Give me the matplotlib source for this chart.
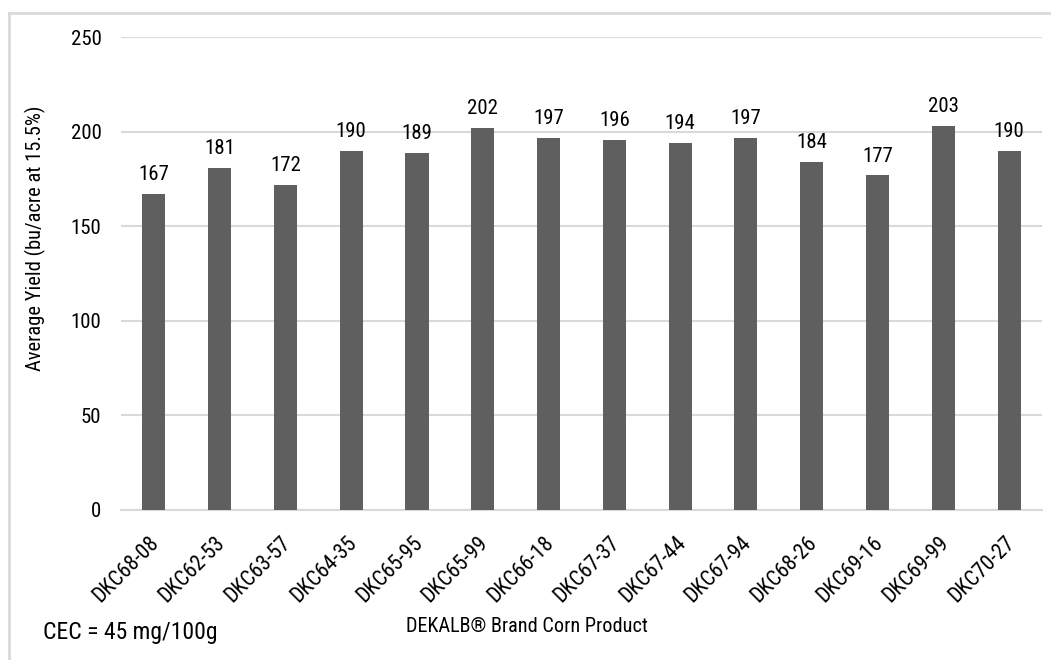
import matplotlib
matplotlib.use("Agg")
import matplotlib.pyplot as plt
from matplotlib.lines import Line2D
from matplotlib.transforms import ScaledTranslation

plt.rcParams['font.family'] = ['Roboto Condensed', 'DejaVu Sans']

products = ["DKC68-08", "DKC62-53", "DKC63-57", "DKC64-35", "DKC65-95", "DKC65-99",
            "DKC66-18", "DKC67-37", "DKC67-44", "DKC67-94", "DKC68-26", "DKC69-16",
            "DKC69-99", "DKC70-27"]
yields = [167, 181, 172, 190, 189, 202, 197, 196, 194, 197, 184, 177, 203, 190]
y_ticks = [0, 50, 100, 150, 200, 250]

FS = 15
fig = plt.figure(figsize=(10.51, 6.6), dpi=100)
ax = fig.add_axes([0.1151, 0.2273, 0.8763, 0.7159])

x = list(range(len(products)))
ax.bar(x, yields, width=0.35, color="#5f5f5f", zorder=3)
for xi, v in zip(x, yields):
    ax.annotate(str(v), (xi, v), xytext=(0, 10), textcoords="offset points",
                ha="center", va="baseline", fontsize=FS, color="#000000")

ax.set_xlim(-0.5, len(products) - 0.5)
ax.set_ylim(0, 250)
ax.set_yticks(y_ticks)
ax.set_yticklabels([str(t) for t in y_ticks], fontsize=FS)
ax.yaxis.grid(True, color="#d9d9d9", linewidth=1.5, zorder=0)
ax.tick_params(axis="y", length=0, pad=14)
ax.tick_params(axis="x", length=0, pad=4)
ax.set_xticks(x)
ax.set_xticklabels(products, rotation=45, ha="right", va="top",
                   rotation_mode="anchor", fontsize=15.5)
shift = ScaledTranslation(-5 / 100, -17 / 100, fig.dpi_scale_trans)
for lbl in ax.get_xticklabels():
    lbl.set_transform(lbl.get_transform() + shift)
for s in ["top", "right", "left"]:
    ax.spines[s].set_visible(False)
ax.spines["bottom"].set_color("#d9d9d9")
ax.spines["bottom"].set_linewidth(1.5)

fig.text(0.0333, 0.639, "Average Yield (bu/acre at 15.5%)", rotation=90,
         ha="center", va="center", fontsize=14.8)
fig.text(0.5016, 0.05, "DEKALB® Brand Corn Product", ha="center", va="center", fontsize=14.6)
fig.text(0.0405, 0.041, "CEC = 45 mg/100g", ha="left", va="center", fontsize=17)

# light frame along the top and left edges
fig.add_artist(Line2D([9 / 1051, 1], [1 - 13 / 660, 1 - 13 / 660], color="#d9d9d9",
                      linewidth=2, transform=fig.transFigure))
fig.add_artist(Line2D([9 / 1051, 9 / 1051], [0, 1 - 13 / 660], color="#d9d9d9",
                      linewidth=2, transform=fig.transFigure))

fig.savefig("out.png", dpi=100)
